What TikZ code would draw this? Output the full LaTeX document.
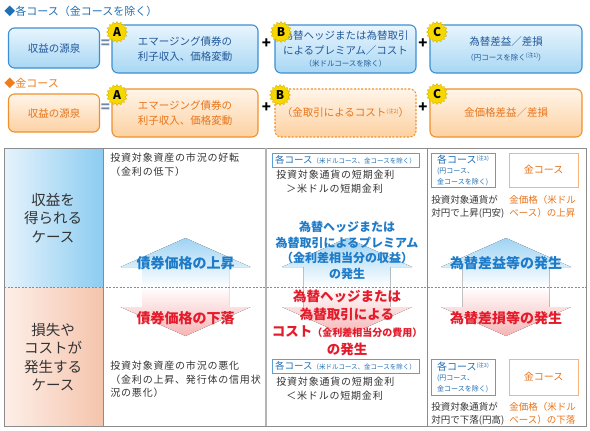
\documentclass[tikz,border=0pt]{standalone}
\usepackage{fontspec}
\setmainfont{Noto Sans CJK JP}
\newfontfamily\jpwide{Noto Sans CJK JP}[LetterSpace=8]
\usetikzlibrary{shapes.geometric}

\definecolor{headblue}{HTML}{1F6FB5}
\definecolor{headorange}{HTML}{EE7D1E}
\definecolor{bline}{HTML}{3C8FD2}
\definecolor{btop}{HTML}{E8F5FD}
\definecolor{bbot}{HTML}{A8D7F4}
\definecolor{btext}{HTML}{22589A}
\definecolor{oline}{HTML}{F0902C}
\definecolor{otop}{HTML}{FFF5EA}
\definecolor{obot}{HTML}{FDD1A2}
\definecolor{otext}{HTML}{E8741A}
\definecolor{eqgray}{HTML}{7088A8}
\definecolor{badgeyellow}{HTML}{F6D800}
\definecolor{badgeedge}{HTML}{D9B400}
\definecolor{upblue}{HTML}{1E7BC8}
\definecolor{dnred}{HTML}{E41B2B}
\definecolor{arrblue}{HTML}{9ED3F4}
\definecolor{arrpink}{HTML}{F6B4B4}
\definecolor{gridgray}{HTML}{8C8C8C}
\definecolor{gridlight}{HTML}{B4B4B4}
\definecolor{cellgray}{HTML}{333333}
\definecolor{caseblueL}{HTML}{E6F3FC}
\definecolor{caseblueR}{HTML}{8CCCF1}
\definecolor{casepinkL}{HTML}{FDEFE8}
\definecolor{casepinkR}{HTML}{F5C4AC}
\definecolor{tagblue}{HTML}{5A9FD6}
\definecolor{taggold}{HTML}{F5B47C}

\tikzset{every picture/.style={line width=0.75pt}}
\tikzset{
  srcblue/.style={draw=bline, line width=1.1pt, rounded corners=6pt, top color=btop, bottom color=bbot,
    text=btext, align=center, inner sep=0pt, font=\fontsize{10.5}{14.5}\selectfont},
  srcorange/.style={draw=oline, line width=1.1pt, rounded corners=6pt, top color=otop, bottom color=obot,
    text=otext, align=center, inner sep=0pt, font=\fontsize{10.5}{14.5}\selectfont},
  badge/.style={star, star points=16, star point ratio=1.25, minimum size=21pt, inner sep=0pt,
    fill=badgeyellow, draw=badgeedge, line width=0.4pt, font=\fontsize{12}{12}\selectfont\bfseries},
  opsign/.style={inner sep=0pt, font=\fontsize{15}{15}\selectfont\bfseries},
  casetext/.style={align=center, inner sep=0pt, text=cellgray, font=\fontsize{14.5}{18.5}\selectfont},
  celltext/.style={anchor=north west, align=left, inner sep=0pt, text=cellgray, font=\jpwide\fontsize{10}{13.5}\selectfont},
  smalltext/.style={anchor=north west, align=left, inner sep=0pt, text=cellgray, font=\fontsize{9.5}{13}\selectfont},
  uplabel/.style={align=center, inner sep=0pt, text=upblue, font=\bfseries\fontsize{14}{15.5}\selectfont},
  dnlabel/.style={align=center, inner sep=0pt, text=dnred, font=\bfseries\fontsize{14}{17.5}\selectfont},
  coursetag/.style={draw=tagblue, fill=white, line width=0.8pt, inner sep=0pt},
  goldtag/.style={draw=taggold, fill=white, line width=0.8pt, inner sep=0pt, text=otext, font=\fontsize{10}{10}\selectfont},
}
\newcommand{\noteup}[1]{\raisebox{3pt}{\fontsize{5.5}{5.5}\selectfont(#1)}}

\begin{document}
\begin{tikzpicture}[x=1pt,y=1pt,yscale=-1,xscale=1]
\useasboundingbox (0,0) rectangle (590,431);

% Heading (blue)
\node[anchor=west, inner sep=0pt, text=headblue, font=\fontsize{11}{11}\selectfont] (headAll) at (4,11) {◆各コース（金コースを除く）};

%Rounded Rect row 1
\node[srcblue, minimum width=91, minimum height=40] (srcAll) at (54,48) {収益の源泉};
\node[srcblue, minimum width=146, minimum height=48] (bondAll) at (185,49) {エマージング債券の\\利子収入、価格変動};
\node[srcblue, minimum width=141, minimum height=48] (fxAll) at (345.5,49)
  {為替ヘッジまたは為替取引\\によるプレミアム／コスト\\[-2pt]{\fontsize{7.5}{9}\selectfont（米ドルコースを除く）}};
\node[srcblue, minimum width=152, minimum height=48] (gainAll) at (506,49)
  {為替差益／差損\\{\fontsize{7.5}{9}\selectfont（円コースを除く\noteup{注1}）}};
\node[opsign, text=eqgray] (eqAll) at (105.5,44) {=};
\node[opsign] (plusAllB) at (266.5,44) {+};
\node[opsign] (plusAllC) at (423,44) {+};
\node[badge] (badgeAllA) at (117,32) {A};
\node[badge] (badgeAllB) at (281,32) {B};
\node[badge] (badgeAllC) at (437,32) {C};

% Heading (orange)
\node[anchor=west, inner sep=0pt, text=headorange, font=\fontsize{11}{11}\selectfont] (headGold) at (4,83) {◆金コース};

%Rounded Rect row 2
\node[srcorange, minimum width=91, minimum height=38] (srcGold) at (54,113) {収益の源泉};
\node[srcorange, minimum width=146, minimum height=48] (bondGold) at (185,113) {エマージング債券の\\利子収入、価格変動};
\node[srcorange, dashed, dash pattern=on 2pt off 1.6pt, minimum width=141, minimum height=48] (fxGold) at (345.5,113)
  {（金取引によるコスト\noteup{注2}）};
\node[srcorange, minimum width=152, minimum height=48] (gainGold) at (506,113) {金価格差益／差損};
\node[opsign, text=eqgray] (eqGold) at (105.5,108) {=};
\node[opsign] (plusGoldB) at (266.5,108) {+};
\node[opsign] (plusGoldC) at (423,108) {+};
\node[badge] (badgeGoldA) at (117,95) {A};
\node[badge] (badgeGoldB) at (280,95) {B};
\node[badge] (badgeGoldC) at (437,94) {C};

%Shape: case column
\fill[left color=caseblueL, right color=caseblueR] (4,148) rectangle (103,287);
\fill[left color=casepinkL, right color=casepinkR] (4,287) rectangle (103,426);

%Shape: arrows
\foreach \cx in {185.5,347,506}{
  \fill[top color=arrblue, bottom color=white] (\cx,238) -- ++(65,29) -- ++(-21.5,0) -- ++(0,20) -- ++(-87,0) -- ++(0,-20) -- ++(-21.5,0) -- cycle;
  \fill[top color=white, bottom color=arrpink] (\cx-43.5,287) -- ++(87,0) -- ++(0,20) -- ++(21.5,0) -- (\cx,336) -- ++(-65,-29) -- ++(21.5,0) -- cycle;
}

%Straight Lines: table
\draw[gridgray, line width=0.8pt] (4,148) rectangle (586,426);
\draw[gridgray, line width=0.6pt] (103,148) -- (103,426);
\draw[gridlight, line width=2.4pt] (266,148) -- (266,426);
\draw[gridgray, line width=0.8pt] (427,148) -- (427,426);
\draw[gridgray, line width=0.6pt, dash pattern=on 2pt off 1.5pt] (4,287) -- (586,287);

% Text Node: case column
\node[casetext] (caseGain) at (53,218) {収益を\\得られる\\ケース};
\node[casetext] (caseLoss) at (53,357) {損失や\\コストが\\発生する\\ケース};

% Text Node: bond column
\node[celltext] (mktUp) at (110,153) {投資対象資産の市況の好転\\（金利の低下）};
\node[uplabel] (bondUp) at (185.5,263) {債券価格の上昇};
\node[dnlabel] (bondDn) at (185.5,318) {債券価格の下落};
\node[celltext] (mktDn) at (110,361) {投資対象資産の市況の悪化\\（金利の上昇、発行体の信用状\\況の悪化）};

% Text Node: hedge column
\node[coursetag, minimum width=147, minimum height=14] (tagHedgeUp) at (345.5,160)
  {\textcolor{headblue}{\fontsize{9.5}{10}\selectfont 各コース}\textcolor{headblue}{\fontsize{6.5}{7}\selectfont（米ドルコース、金コースを除く）}};
\node[celltext] (rateUp) at (276,170) {投資対象通貨の短期金利\\\hspace*{10pt}＞米ドルの短期金利};
\node[uplabel, font=\bfseries\fontsize{12}{15.5}\selectfont] (hedgeUp) at (347,250.5)
  {為替ヘッジまたは\\為替取引によるプレミアム\\（金利差相当分の収益）\\の発生};
\node[dnlabel, font=\bfseries\fontsize{13.5}{17.5}\selectfont] (hedgeDn) at (347,323)
  {為替ヘッジまたは\\為替取引による\\コスト{\fontsize{10}{10}\selectfont（金利差相当分の費用）}\\の発生};
\node[coursetag, minimum width=147, minimum height=14] (tagHedgeDn) at (345.5,366)
  {\textcolor{headblue}{\fontsize{9.5}{10}\selectfont 各コース}\textcolor{headblue}{\fontsize{6.5}{7}\selectfont（米ドルコース、金コースを除く）}};
\node[celltext] (rateDn) at (276,377) {投資対象通貨の短期金利\\\hspace*{10pt}＜米ドルの短期金利};

% Text Node: fx column
\node[coursetag, minimum width=64, minimum height=34, text=headblue, align=left] (tagFxUp) at (463,170)
  {{\fontsize{10}{12}\selectfont 各コース}\noteup{注3}\\[-2pt]{\fontsize{7}{10}\selectfont (円コース、}\\[-1pt]{\fontsize{7}{10}\selectfont 金コースを除く)}};
\node[goldtag, minimum width=69, minimum height=34] (goldFxUp) at (543.5,170) {金コース};
\node[smalltext] (ccyUp) at (431,195.2) {投資対象通貨が\\対円で上昇(円安)};
\node[smalltext, text=otext] (goldUp) at (509,195.2) {金価格（米ドル\\ベース）の上昇};
\node[uplabel] (fxUp) at (506,263) {為替差益等の発生};
\node[dnlabel] (fxDn) at (506,318) {為替差損等の発生};
\node[coursetag, minimum width=64, minimum height=36, text=headblue, align=left] (tagFxDn) at (463,377)
  {{\fontsize{10}{12}\selectfont 各コース}\noteup{注3}\\[-2pt]{\fontsize{7}{10}\selectfont (円コース、}\\[-1pt]{\fontsize{7}{10}\selectfont 金コースを除く)}};
\node[goldtag, minimum width=69, minimum height=36] (goldFxDn) at (543.5,377) {金コース};
\node[smalltext] (ccyDn) at (431,402.2) {投資対象通貨が\\対円で下落(円高)};
\node[smalltext, text=otext] (goldDn) at (509,402.2) {金価格（米ドル\\ベース）の下落};

\end{tikzpicture}
\end{document}
